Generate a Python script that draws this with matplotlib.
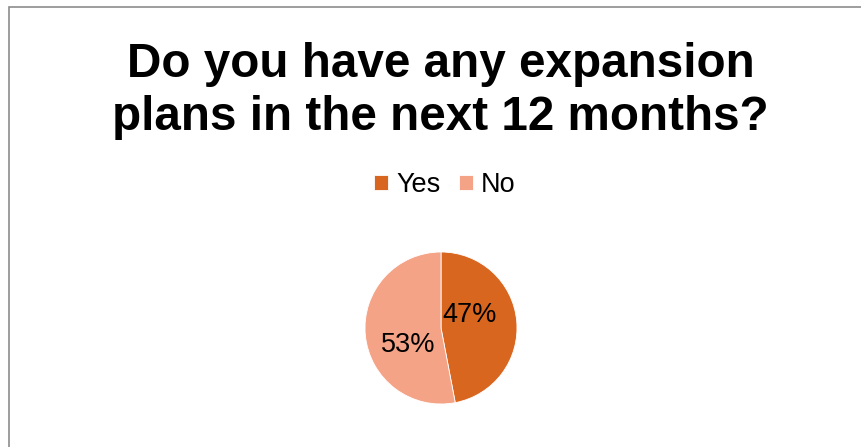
import matplotlib.pyplot as plt
from matplotlib.patches import Rectangle

plt.rcParams['font.family'] = ['Liberation Sans', 'DejaVu Sans']

title = "Do you have any expansion\nplans in the next 12 months?"
answers = ["Yes", "No"]
shares = [47, 53]
colors = ["#D9661F", "#F5A386"]

fig = plt.figure(figsize=(8.62, 4.47), dpi=100)

# chart border (only top and left edges visible in the crop)
fig.patches.append(Rectangle((9.5 / 862, -0.1), 1.2, 1.1 - 7.5 / 447,
                             transform=fig.transFigure, fill=False,
                             edgecolor="#8c8c8c", linewidth=1.2))

fig.text(0.511, 0.797, title, ha="center", va="center", fontsize=34.3,
         fontweight="bold", linespacing=1.22)

ax = fig.add_axes([365 / 862, (447 - 328 - 76) / 447, 152 / 862, 152 / 447])
wedges, texts, autotexts = ax.pie(shares, colors=colors, startangle=90,
                                  counterclock=False, autopct="%.0f%%",
                                  wedgeprops=dict(edgecolor="white", linewidth=0.6),
                                  textprops=dict(fontsize=19.5, color="black"))
autotexts[0].set_position((0.37, 0.17))
autotexts[1].set_position((-0.43, -0.23))
ax.set_xlim(-1, 1)
ax.set_ylim(-1, 1)
ax.set_aspect("equal")

leg = fig.legend(wedges, answers, loc="center", bbox_to_anchor=(445 / 862, 1 - 185 / 447),
                 ncol=2, frameon=False, fontsize=19.5, handlelength=0.5, handleheight=0.5,
                 handletextpad=0.3, columnspacing=0.7)

fig.savefig("out.png", dpi=100)
